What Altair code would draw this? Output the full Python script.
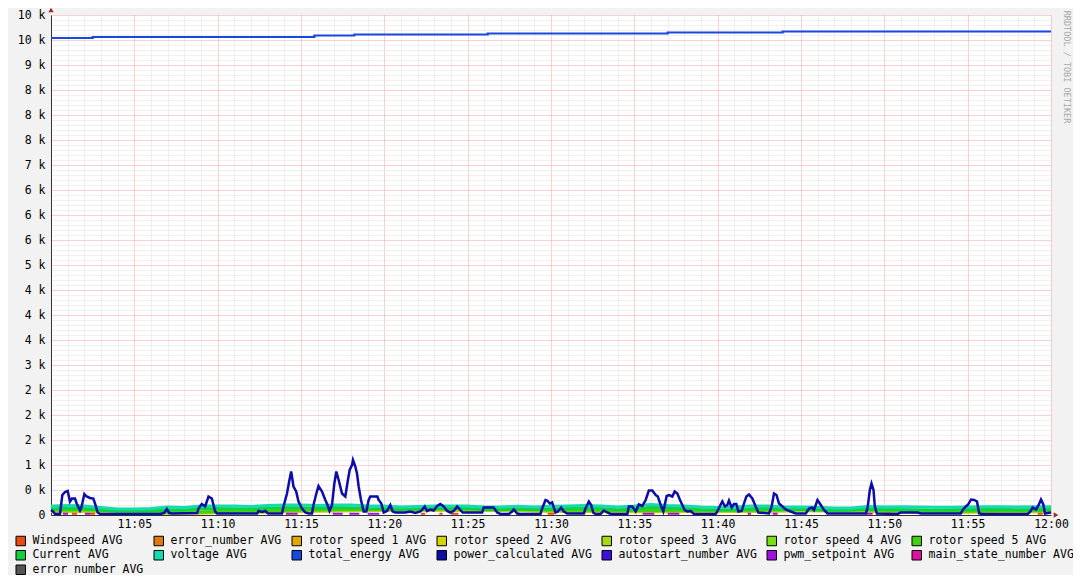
import json
import altair as alt
import pandas as pd

# ---------------- data ----------------
series_names = [
    "Windspeed AVG", "error_number AVG", "rotor speed 1 AVG", "rotor speed 2 AVG",
    "rotor speed 3 AVG", "rotor speed 4 AVG", "rotor speed 5 AVG",
    "Current AVG", "voltage AVG", "total_energy AVG", "power_calculated AVG",
    "autostart_number AVG", "pwm_setpoint AVG", "main_state_number AVG",
    "error_number AVG\u200b",
]
series_colors = [
    "#e84a12", "#e07810", "#e0a800", "#d4d400", "#a8d810", "#78e010", "#40d010",
    "#10d040", "#14dcb0", "#1848e0", "#0c0ca8", "#4010e0", "#a010e0", "#e010a0",
    "#555555",
]

# minutes after 11:00
band_minutes = list(range(61))
voltage = [180, 190, 180, 150, 120, 120, 130, 160, 150, 180,
           180, 180, 170, 190, 200, 200, 190, 200, 200, 180,
           180, 160, 170, 180, 180, 180, 160, 160, 175, 160,
           175, 180, 190, 180, 160, 180, 210, 190, 180, 160,
           150, 160, 180, 180, 160, 160, 155, 140, 140, 170,
           160, 165, 160, 155, 155, 160, 165, 165, 160, 165, 165]
current = [125, 135, 130, 95, 75, 80, 85, 105, 100, 125,
           130, 125, 120, 135, 150, 145, 140, 150, 145, 130,
           125, 110, 120, 130, 125, 130, 110, 105, 120, 110,
           120, 130, 135, 130, 105, 125, 155, 140, 130, 110,
           100, 105, 125, 130, 110, 110, 100, 90, 95, 115,
           110, 110, 105, 100, 105, 110, 110, 115, 105, 110, 110]

rotor_minutes = list(range(0, 61, 3))
rotor5 = [100, 110, 60, 60, 80, 100, 110, 120, 125, 120, 100, 95, 90, 95, 95, 110, 110, 90, 75, 90, 90]
rotor4 = [95, 100, 55, 55, 75, 95, 105, 115, 120, 115, 95, 90, 85, 90, 90, 105, 105, 85, 70, 85, 85]
rotor3 = [85, 95, 50, 50, 70, 90, 100, 110, 110, 105, 90, 80, 80, 85, 85, 100, 95, 80, 65, 80, 80]
rotor2 = [75, 85, 40, 45, 60, 80, 90, 100, 100, 95, 80, 70, 70, 75, 75, 90, 85, 70, 60, 70, 70]
rotor1 = [70, 80, 35, 40, 55, 75, 85, 95, 95, 90, 75, 65, 65, 70, 70, 85, 80, 65, 55, 65, 65]

energy_readings = [(0, 9540), (2.5, 9560), (15.8, 9590), (18.2, 9610),
                   (26.2, 9630), (37.0, 9650), (43.9, 9670), (60, 9670)]

power_readings = [
    (0.00, 100), (0.12, 70), (0.24, 20), (0.54, 20), (0.68, 400), (0.84, 460), (1.00, 480),
    (1.14, 270), (1.26, 330), (1.44, 330), (1.54, 230), (1.74, 90), (1.84, 170), (2.00, 420),
    (2.14, 370), (2.34, 340), (2.54, 330), (2.64, 230), (2.80, 50), (2.94, 20), (4.74, 20),
    (6.55, 20), (6.79, 40), (6.95, 120), (7.09, 40), (7.27, 30), (8.77, 40), (8.85, 130),
    (9.05, 220), (9.25, 170), (9.45, 370), (9.65, 330), (9.75, 200), (9.85, 70), (9.97, 30),
    (12.37, 30), (12.45, 80), (12.67, 60), (12.85, 80), (13.03, 30), (13.86, 30), (13.95, 170),
    (14.16, 430), (14.29, 670), (14.41, 870), (14.55, 570), (14.71, 470), (14.85, 270),
    (15.06, 130), (15.26, 50), (15.45, 30), (15.66, 30), (15.75, 200), (15.92, 430),
    (16.05, 580), (16.26, 470), (16.46, 300), (16.59, 200), (16.71, 80), (16.86, 200),
    (17.00, 630), (17.12, 870), (17.26, 700), (17.46, 430), (17.66, 370), (17.80, 670),
    (17.92, 900), (18.06, 1000), (18.12, 1100), (18.26, 970), (18.36, 830), (18.46, 570),
    (18.60, 300), (18.76, 70), (18.92, 70), (19.06, 300), (19.16, 370), (19.34, 370),
    (19.58, 370), (19.66, 300), (19.82, 230), (19.96, 50), (20.16, 80), (20.36, 200),
    (20.50, 70), (20.66, 50), (21.26, 50), (21.56, 70), (21.86, 40), (22.16, 70), (22.26, 100),
    (22.42, 170), (22.56, 80), (22.76, 110), (22.96, 90), (23.17, 180), (23.36, 220),
    (23.56, 170), (23.77, 80), (23.96, 50), (24.16, 80), (24.37, 170), (24.56, 100),
    (24.70, 50), (25.87, 50), (25.96, 150), (26.56, 150), (26.77, 50), (26.97, 20),
    (27.47, 20), (27.67, 70), (27.77, 110), (27.97, 30), (28.17, 20), (29.37, 20),
    (29.47, 130), (29.67, 300), (29.77, 290), (29.93, 230), (30.07, 250), (30.27, 50),
    (30.41, 70), (30.61, 150), (30.77, 70), (30.97, 30), (31.97, 30), (32.07, 130),
    (32.27, 270), (32.41, 200), (32.53, 50), (32.67, 20), (32.97, 20), (33.17, 90),
    (33.38, 50), (33.57, 20), (34.58, 20), (34.67, 170), (34.88, 170), (35.08, 70),
    (35.27, 210), (35.48, 180), (35.68, 300), (35.87, 490), (36.08, 490), (36.28, 400),
    (36.41, 370), (36.58, 200), (36.74, 70), (36.94, 380), (37.08, 400), (37.28, 370),
    (37.42, 470), (37.58, 430), (37.74, 300), (37.88, 200), (38.02, 100), (38.18, 70),
    (38.38, 80), (38.58, 20), (39.88, 20), (39.98, 70), (40.12, 170), (40.28, 270),
    (40.44, 170), (40.58, 200), (40.68, 290), (40.84, 150), (40.98, 220), (41.12, 220),
    (41.24, 70), (41.44, 80), (41.58, 230), (41.72, 370), (41.88, 410), (42.08, 330),
    (42.28, 170), (42.44, 50), (43.08, 30), (43.24, 170), (43.38, 430), (43.53, 400),
    (43.68, 230), (43.89, 170), (44.08, 110), (44.38, 70), (44.68, 30), (45.29, 30),
    (45.48, 130), (45.65, 150), (45.78, 100), (45.99, 300), (46.19, 200), (46.38, 100),
    (46.59, 30), (48.89, 30), (48.99, 130), (49.13, 500), (49.23, 630), (49.35, 500),
    (49.43, 170), (49.55, 30), (50.79, 20), (50.99, 50), (51.79, 50), (51.99, 50),
    (52.19, 30), (54.59, 30), (54.70, 100), (54.89, 170), (55.03, 210), (55.20, 310),
    (55.39, 300), (55.56, 270), (55.69, 30), (55.90, 20), (58.60, 20), (58.76, 70),
    (58.90, 150), (59.10, 110), (59.26, 200), (59.40, 310), (59.54, 210), (59.64, 30),
    (60.00, 50),
]

pwm_level = 25
pwm_dashes = [(0.72, 1.02), (2.04, 2.34), (14.1, 14.8), (16.9, 17.5), (17.9, 18.5),
              (19.0, 19.7), (35.5, 36.2), (37.0, 37.7), (41.8, 42.0), (43.3, 43.6), (48.9, 49.3)]
wind_level = 25
wind_dashes = [(1.26, 1.56), (2.34, 2.64), (22.2, 22.45), (23.3, 23.5), (24.0, 24.45),
               (29.8, 30.2), (59.2, 59.5)]

x_tick_labels = ["11:05", "11:10", "11:15", "11:20", "11:25", "11:30",
                 "11:35", "11:40", "11:45", "11:50", "11:55", "12:00"]
y_tick_labels = ["0", "0 k", "1 k", "2 k", "2 k", "2 k", "3 k", "4 k", "4 k", "4 k", "5 k",
                 "6 k", "6 k", "6 k", "7 k", "8 k", "8 k", "8 k", "9 k", "10 k", "10 k"]

# ---------------- tables ----------------
rows = []
for name, mins, vals in [
    ("rotor speed 1 AVG", rotor_minutes, rotor1),
    ("rotor speed 2 AVG", rotor_minutes, rotor2),
    ("rotor speed 3 AVG", rotor_minutes, rotor3),
    ("rotor speed 4 AVG", rotor_minutes, rotor4),
    ("rotor speed 5 AVG", rotor_minutes, rotor5),
    ("Current AVG", band_minutes, current),
    ("voltage AVG", band_minutes, voltage),
]:
    for m, v in zip(mins, vals):
        rows.append({"minute": m, "value": v, "series": name})
band_df = pd.DataFrame(rows)

dash_rows = []
for name, level, dashes in [("Windspeed AVG", wind_level, wind_dashes),
                            ("pwm_setpoint AVG", pwm_level, pwm_dashes)]:
    for i, (a, b) in enumerate(dashes):
        seg = f"{name}-{i}"
        dash_rows.append({"minute": a, "value": level, "series": name, "seg": seg})
        dash_rows.append({"minute": b, "value": level, "series": name, "seg": seg})
dash_df = pd.DataFrame(dash_rows)

energy_df = pd.DataFrame(energy_readings, columns=["minute", "value"])
energy_df["series"] = "total_energy AVG"
power_df = pd.DataFrame(power_readings, columns=["minute", "value"])
power_df["series"] = "power_calculated AVG"
legend_df = pd.DataFrame({"series": series_names})

# ---------------- styling ----------------
FONT = "DejaVu Sans Mono"
MAJOR = "#f0a4a4"
MINOR = "#e0e0e0"

x_axis = alt.Axis(
    values=list(range(61)), title=None, ticks=False, tickSize=0,
    domainColor="#333333", domainWidth=1,
    grid=True, gridDash=[1, 1], gridWidth=1,
    gridColor={"condition": {"test": "datum.value % 5 == 0", "value": MAJOR}, "value": MINOR},
    labelExpr=f"datum.value % 5 == 0 && datum.value > 0 ? {json.dumps(x_tick_labels)}[datum.value / 5 - 1] : ''",
    labelFont=FONT, labelFontSize=11.5, labelColor="#000000", labelPadding=3,
    labelOverlap=False, labelFlush=False,
)
y_axis = alt.Axis(
    values=list(range(0, 10001, 100)), title=None, ticks=False, tickSize=0,
    domainColor="#333333", domainWidth=1,
    grid=True, gridDash=[1, 1], gridWidth=1,
    gridColor={"condition": {"test": "datum.value % 500 == 0", "value": MAJOR}, "value": MINOR},
    labelExpr=f"datum.value % 500 == 0 ? {json.dumps(y_tick_labels)}[datum.value / 500] : ''",
    labelFont=FONT, labelFontSize=11.5, labelColor="#000000", labelPadding=6,
    labelOverlap=False,
)

x_enc = alt.X("minute:Q", scale=alt.Scale(domain=[0, 60], nice=False, zero=False), axis=x_axis)
y_enc = alt.Y("value:Q", scale=alt.Scale(domain=[0, 10000], nice=False), axis=y_axis)
color_scale = alt.Scale(domain=series_names, range=series_colors)
color_nolegend = alt.Color("series:N", scale=color_scale, legend=None)

band = alt.Chart(band_df).mark_line(strokeWidth=3).encode(
    x=x_enc, y=y_enc, color=color_nolegend, detail="series:N")
dashes_layer = alt.Chart(dash_df).mark_line(strokeWidth=2).encode(
    x=x_enc, y=y_enc, color=color_nolegend, detail="seg:N")
energy = alt.Chart(energy_df).mark_line(strokeWidth=2.2, interpolate="step-after").encode(
    x=x_enc, y=y_enc, color=color_nolegend)
power = alt.Chart(power_df).mark_line(strokeWidth=2.5).encode(
    x=x_enc, y=y_enc, color=color_nolegend)

legend_layer = alt.Chart(legend_df).transform_filter("false").mark_square(filled=True, size=90).encode(
    color=alt.Color(
        "series:N", scale=color_scale,
        legend=alt.Legend(
            title=None, orient="none", legendX=-36, legendY=520, direction="horizontal",
            columns=7, symbolType="square", symbolSize=90, symbolStrokeColor="#000000",
            symbolStrokeWidth=1, symbolOpacity=1, labelFont=FONT, labelFontSize=11.5,
            labelColor="#000000", labelOffset=6, columnPadding=8, rowPadding=0.5,
            padding=0, labelLimit=300, gridAlign="each",
        ),
    )
)

one = alt.Data(values=[{"k": 1}])
y_arrow = alt.Chart(one).mark_point(shape="triangle-up", filled=True, size=28, color="#9b2b2b", opacity=1).encode(
    x=alt.value(0), y=alt.value(-5))
x_arrow = alt.Chart(one).mark_point(shape="triangle-right", filled=True, size=28, color="#9b2b2b", opacity=1).encode(
    x=alt.value(1005), y=alt.value(500))
watermark = alt.Chart(one).mark_text(
    text="RRDTOOL / TOBI OETIKER", angle=90, font=FONT, fontSize=8.5, color="#a8a8a8",
    align="center", baseline="middle").encode(x=alt.value(1016), y=alt.value(52))

chart = alt.layer(band, dashes_layer, energy, power, legend_layer, y_arrow, x_arrow, watermark).properties(
    width=1000, height=500, background="#f2f2f2",
    view=alt.ViewBackground(fill="#ffffff", stroke=None),
    autosize=alt.AutoSizeParams(type="none"),
    padding={"left": 43, "top": 7, "right": 22, "bottom": 60},
).resolve_legend(color="independent").configure_view(fill="#ffffff", stroke=None)

chart.save("out.html", embed_options={"renderer": "svg", "actions": False})
